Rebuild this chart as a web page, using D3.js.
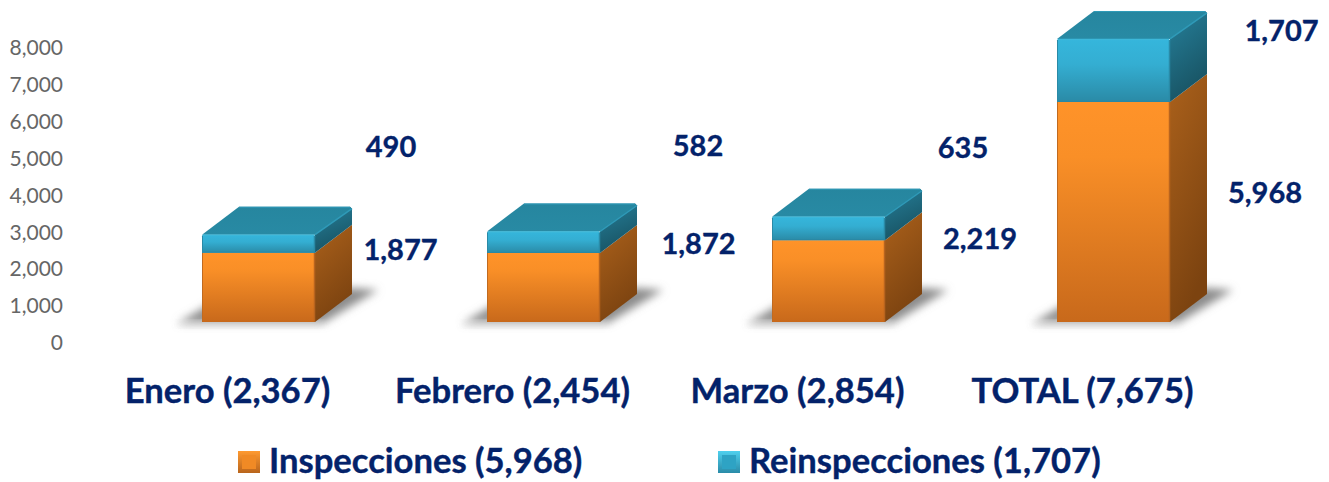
<!DOCTYPE html>
<html><head><meta charset="utf-8">
<script src="https://cdn.jsdelivr.net/npm/d3@7"></script>
<style>html,body{margin:0;padding:0;background:#fff}svg{display:block}text{font-family:Lato,Carlito,sans-serif}</style>
</head><body><svg id="c" width="1329" height="482"></svg>
<script>
const categories = ["Enero (2,367)", "Febrero (2,454)", "Marzo (2,854)", "TOTAL (7,675)"];
const inspecciones = [1877, 1872, 2219, 5968];
const reinspecciones = [490, 582, 635, 1707];
const inspeccionesLabels = ["1,877", "1,872", "2,219", "5,968"];
const reinspeccionesLabels = ["490", "582", "635", "1,707"];
const yTicks = [0, 1000, 2000, 3000, 4000, 5000, 6000, 7000, 8000];
const legendLabels = ["Inspecciones (5,968)", "Reinspecciones (1,707)"];

// hand-placed data label offsets, relative to each bar's category centre and the floor
const inspNudge = [[173, -72], [186, -78], [182.5, -83], [182.5, -129]];
const reinNudge = [[163.5, -175], [185.5, -176], [165.5, -174], [199, -291]];

const svg = d3.select("#c");
const navy = "#03226a";
const x = d3.scaleBand().domain(categories).range([85, 1225]);
const y = d3.scaleLinear().domain([0, 8000]).range([343, 48]);
const barW = 113, dx = 37, dy = 28, floorLift = 21, barShift = 31;

const defs = svg.append("defs");
function grad(id, stops, x2 = 0, y2 = 1) {
  const g = defs.append("linearGradient").attr("id", id)
    .attr("x1", 0).attr("y1", 0).attr("x2", x2).attr("y2", y2);
  stops.forEach(([o, c]) => g.append("stop").attr("offset", o).attr("stop-color", c));
}
grad("oF", [[0, "#ff9329"], [0.25, "#f98f27"], [1, "#c8691b"]]);
grad("oS", [[0, "#ab611b"], [1, "#7c4310"]], 0.35, 1);
grad("bF", [[0, "#35b6dc"], [0.4, "#34aed2"], [1, "#2a8aa6"]]);
grad("bS", [[0, "#26809b"], [1, "#185363"]], 0.35, 1);
grad("bT", [[0, "#26869f"], [1, "#288aa4"]]);
grad("lgO", [[0, "#ff9a30"], [1, "#b9651c"]]);
grad("lgB", [[0, "#4fd0ee"], [1, "#2a8ba8"]]);
const blur = defs.append("filter").attr("id", "blur")
  .attr("x", "-30%").attr("y", "-60%").attr("width", "160%").attr("height", "220%");
blur.append("feGaussianBlur").attr("stdDeviation", 4);

// value axis
const axis = d3.axisLeft(y).tickValues(yTicks).tickFormat(d3.format(",")).tickSize(0).tickPadding(0);
const ax = svg.append("g").attr("transform", "translate(63,0)").call(axis);
ax.select(".domain").remove();
ax.selectAll("text").attr("fill", "#666").style("font-family", "Lato,sans-serif").style("font-size", "21px");

// category labels
const cx = d3.axisBottom(x).tickSize(0).tickPadding(0);
const cg = svg.append("g").attr("transform", "translate(0,378)").call(cx);
cg.select(".domain").remove();
cg.selectAll("text").attr("fill", navy).attr("stroke", navy).attr("stroke-width", 0.4)
  .style("font-family", "Lato,sans-serif").style("font-weight", 700).style("font-size", "34.6px");

const poly = pts => pts.map(p => p.join(",")).join(" ");
const rows = categories.map((c, i) => ({c, i, a: inspecciones[i], b: reinspecciones[i]}));
const left = d => x(d.c) + x.bandwidth() / 2 + barShift - barW / 2;

// shadows
const sh = svg.append("g");
sh.selectAll("polygon").data(rows).join("polygon")
  .attr("points", d => {
    const L = left(d), B = y(0) - floorLift;
    return poly([[L - 24, B + 1], [L + 8, B - 18], [L + barW + dx, B - dy - 6], [L + barW + dx + 26, B - dy - 4], [L + barW + 8, B + 1]]);
  })
  .attr("fill", "#8c8c8c").attr("filter", "url(#blur)");
sh.selectAll("rect").data(rows).join("rect")
  .attr("x", d => left(d) - 24)
  .attr("y", y(0) - floorLift).attr("width", barW + 32).attr("height", 4)
  .attr("fill", "#ddd").attr("filter", "url(#blur)").attr("opacity", 0.9);

// 3-D stacked bars
const bars = svg.selectAll("g.bar").data(rows).join("g").attr("class", "bar")
  .attr("transform", d => `translate(${left(d)},${-floorLift})`);
bars.each(function (d) {
  const g = d3.select(this);
  const y0 = y(0), y1 = y(d.a), y2 = y(d.a + d.b);
  g.append("polygon").attr("points", poly([[barW, y0], [barW + dx, y0 - dy], [barW + dx, y1 - dy], [barW, y1]])).attr("fill", "url(#oS)");
  g.append("rect").attr("x", 0).attr("y", y1).attr("width", barW).attr("height", y0 - y1).attr("fill", "url(#oF)");
  g.append("polygon").attr("points", poly([[barW, y1], [barW + dx, y1 - dy], [barW + dx, y2 - dy + 2], [barW + dx - 2, y2 - dy], [barW, y2]])).attr("fill", "url(#bS)");
  g.append("rect").attr("x", 0).attr("y", y2).attr("width", barW).attr("height", y1 - y2).attr("rx", 1.5).attr("fill", "url(#bF)");
  g.append("polygon").attr("points", poly([[0, y2], [dx, y2 - dy], [barW + dx - 2, y2 - dy], [barW + dx, y2 - dy + 2], [barW, y2]])).attr("fill", "url(#bT)");
  // bevel edges
  g.append("line").attr("x1", 0.5).attr("x2", 0.5).attr("y1", y1).attr("y2", y0).attr("stroke", "#c06a20").attr("stroke-width", 1);
  g.append("line").attr("x1", barW - 0.5).attr("x2", barW - 0.5).attr("y1", y1).attr("y2", y0).attr("stroke", "#b8641f").attr("stroke-width", 1.5);
  g.append("line").attr("x1", 0.5).attr("x2", 0.5).attr("y1", y2 + 1).attr("y2", y1).attr("stroke", "#2a8aa6").attr("stroke-width", 1);
  g.append("line").attr("x1", barW - 0.5).attr("x2", barW - 0.5).attr("y1", y2 + 1).attr("y2", y1).attr("stroke", "#2a8aa6").attr("stroke-width", 1.5);
  g.append("line").attr("x1", 1).attr("x2", barW - 1).attr("y1", y2 + 0.5).attr("y2", y2 + 0.5).attr("stroke", "#3cb8da").attr("stroke-width", 1.5);
  g.append("line").attr("x1", 0).attr("x2", barW).attr("y1", y1 - 0.5).attr("y2", y1 - 0.5).attr("stroke", "#2b88a4").attr("stroke-width", 1);
  g.append("line").attr("x1", dx).attr("x2", barW + dx - 2).attr("y1", y2 - dy + 0.5).attr("y2", y2 - dy + 0.5).attr("stroke", "#2f9ab8").attr("stroke-width", 1);
  g.append("line").attr("x1", barW).attr("x2", barW + dx).attr("y1", y2).attr("y2", y2 - dy + 2).attr("stroke", "#2f9ab8").attr("stroke-width", 1.5);
});

// data labels
const dl = svg.append("g").attr("fill", navy).attr("stroke", navy).attr("stroke-width", 0.35)
  .style("font-weight", 700).style("font-size", "29px").attr("text-anchor", "middle");
const floorY = y(0) - floorLift;
rows.forEach(d => {
  const c = x(d.c) + x.bandwidth() / 2;
  dl.append("text").attr("x", c + inspNudge[d.i][0]).attr("y", floorY + inspNudge[d.i][1]).attr("dy", "0.35em").text(inspeccionesLabels[d.i]);
  dl.append("text").attr("x", c + reinNudge[d.i][0]).attr("y", floorY + reinNudge[d.i][1]).attr("dy", "0.35em").text(reinspeccionesLabels[d.i]);
});

// legend
const lgX = d3.scaleOrdinal().domain(legendLabels).range([238, 718]);
const lg = svg.selectAll("g.lg").data(legendLabels).join("g").attr("class", "lg")
  .attr("transform", d => `translate(${lgX(d)},451)`);
lg.append("rect").attr("width", 22).attr("height", 22).attr("fill", (d, i) => i ? "url(#lgB)" : "url(#lgO)");
lg.append("rect").attr("x", 4).attr("y", 4).attr("width", 14).attr("height", 14).attr("fill", (d, i) => i ? "#2ea3c4" : "#f08a25");
lg.append("text").attr("x", 31).attr("y", 10).attr("dy", "0.35em").attr("fill", navy).attr("stroke", navy).attr("stroke-width", 0.4)
  .style("font-weight", 700).style("font-size", "34.6px").text(d => d);
</script></body></html>
